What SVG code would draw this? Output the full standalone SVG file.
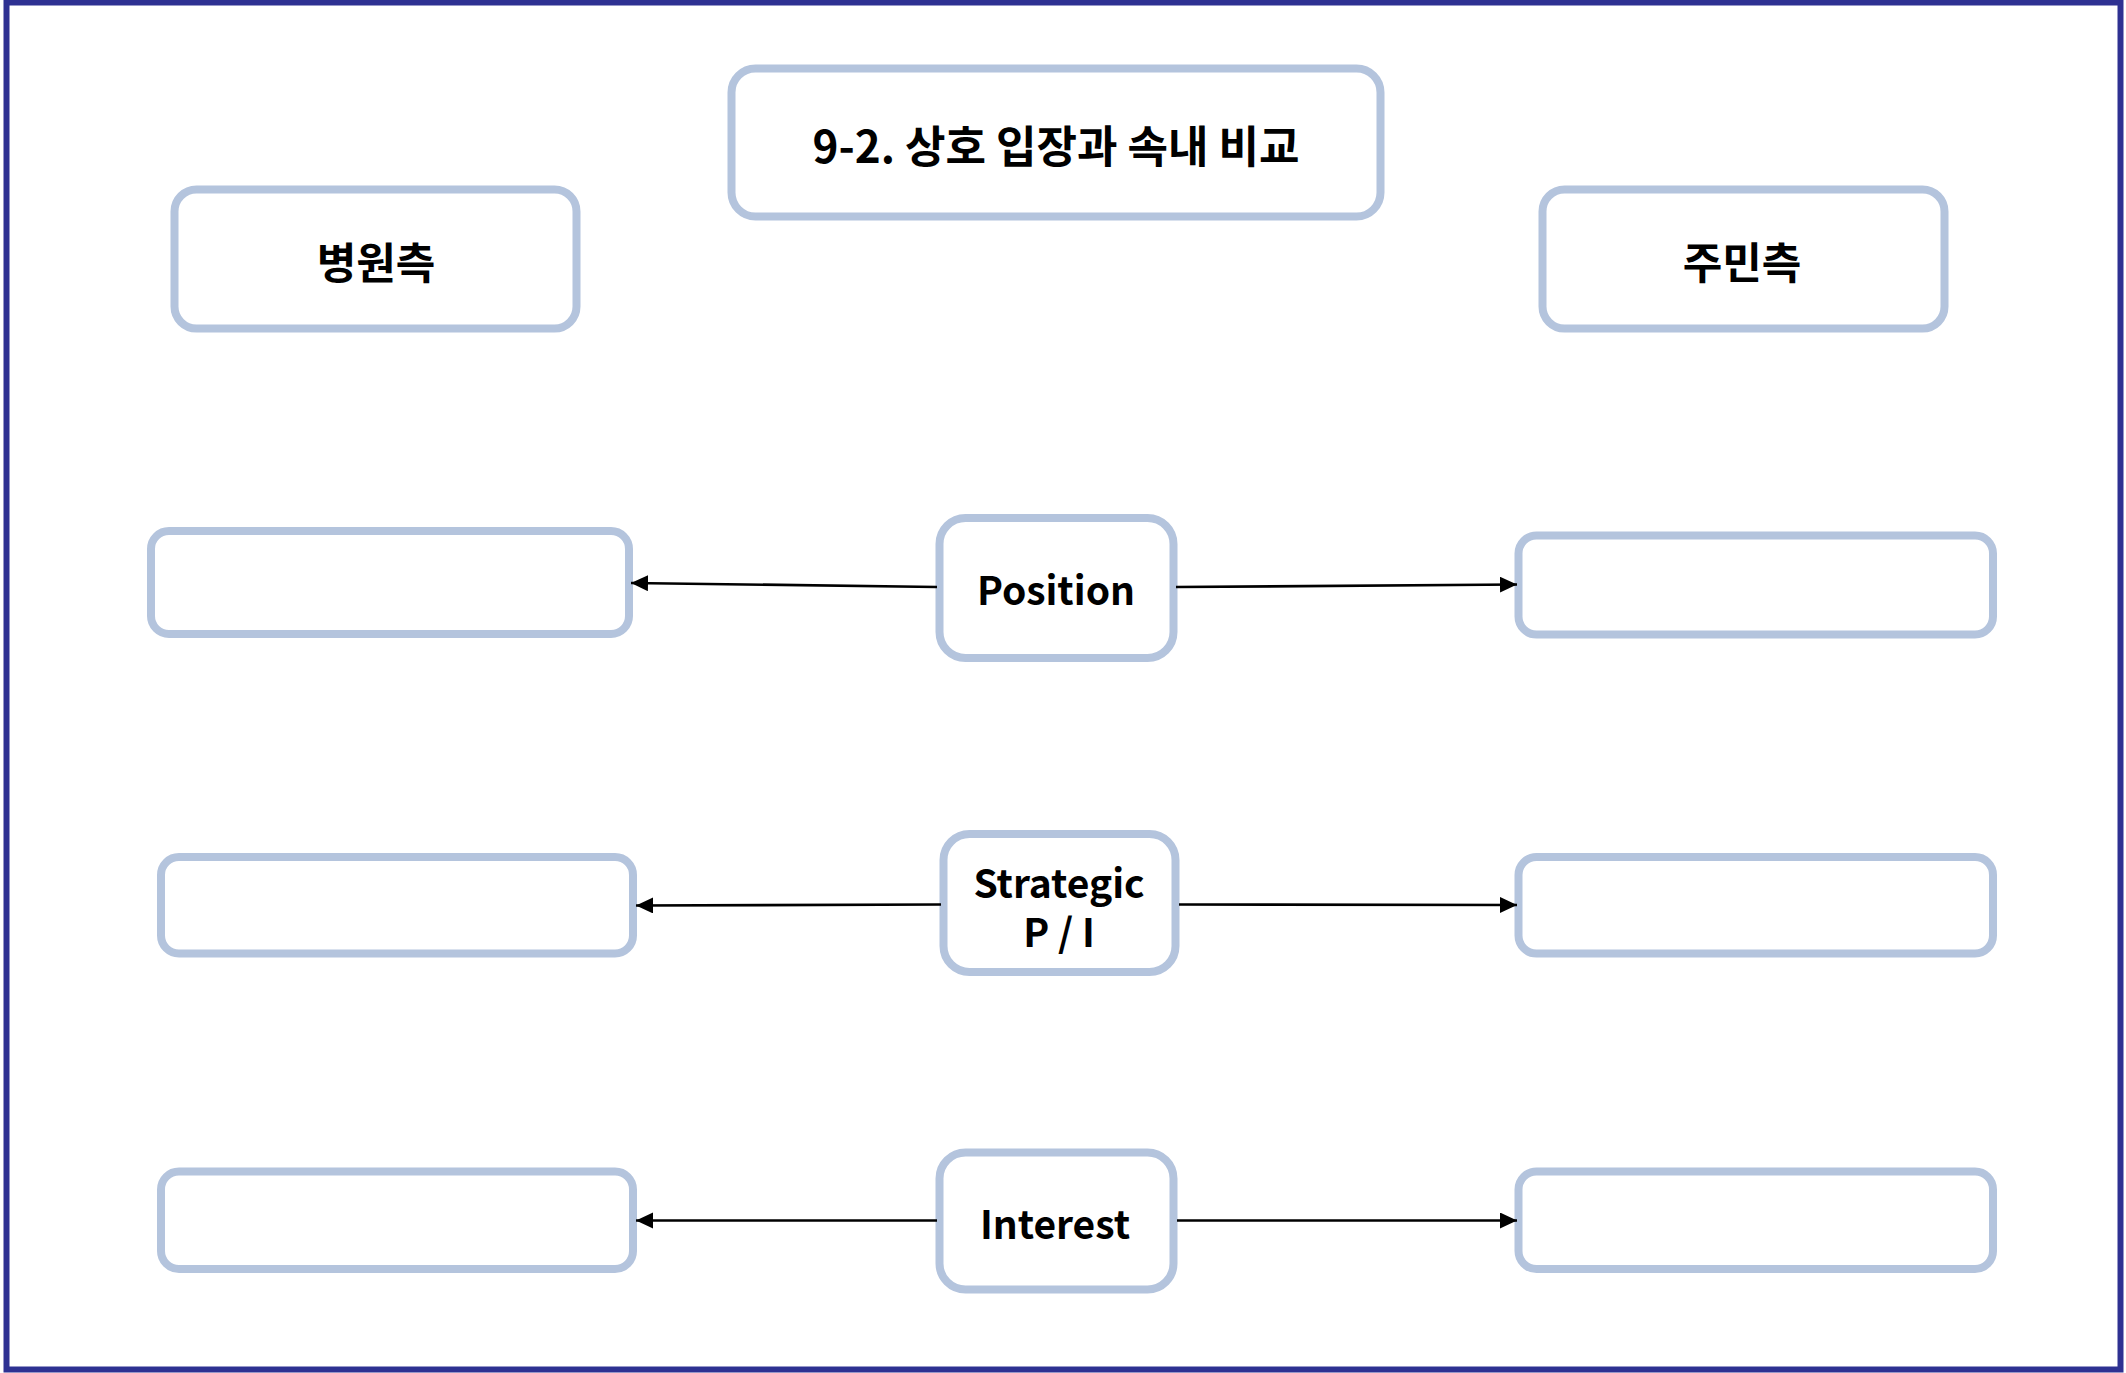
<svg xmlns="http://www.w3.org/2000/svg" width="2126" height="1373" viewBox="0 0 2126 1373">
<defs>
<style>
.box{fill:#ffffff;stroke:#b4c4dd;stroke-width:8}
.lbl{font-family:"Noto Sans CJK KR","Liberation Sans",sans-serif;font-weight:bold;fill:#000000;text-anchor:middle;dominant-baseline:central}
.conn{fill:none;stroke:#000000;stroke-width:2.7}
</style>
<marker id="arr" markerUnits="userSpaceOnUse" markerWidth="20" markerHeight="18" refX="17" refY="8" orient="auto">
<path d="M0,0 L17,8 L0,16 z" fill="#000000"/>
</marker>
</defs>
<rect x="0" y="0" width="2126" height="1373" fill="#ffffff"/>
<rect x="6.5" y="2.5" width="2114" height="1367" fill="none" stroke="#2e3192" stroke-width="6"/>

<g id="title">
<rect class="box" x="731.5" y="68.5" width="649" height="148" rx="24"/>
<text class="lbl" x="1056" y="144" font-size="44">9-2. 상호 입장과 속내 비교</text>
</g>
<g id="hospital">
<rect class="box" x="174.5" y="189.5" width="402" height="139" rx="22"/>
<text class="lbl" x="376" y="260" font-size="43">병원측</text>
</g>
<g id="residents">
<rect class="box" x="1542.5" y="189.5" width="402" height="139" rx="22"/>
<text class="lbl" x="1742" y="260" font-size="43">주민측</text>
</g>

<g id="position">
<rect class="box" x="939.5" y="518" width="234" height="140" rx="26"/>
<text class="lbl" x="1056" y="588" font-size="39">Position</text>
</g>
<g id="strategic">
<rect class="box" x="943.5" y="834" width="232" height="138" rx="26"/>
<text class="lbl" font-size="39"><tspan x="1059" y="881">Strategic</tspan><tspan x="1059" y="930">P / I</tspan></text>
</g>
<g id="interest">
<rect class="box" x="939.5" y="1152.5" width="234" height="137" rx="26"/>
<text class="lbl" x="1055" y="1222" font-size="39">Interest</text>
</g>

<g id="pos-left"><rect class="box" x="151" y="531" width="478" height="103" rx="18"/></g>
<g id="pos-right"><rect class="box" x="1518.5" y="535.5" width="474.5" height="99" rx="18"/></g>
<g id="str-left"><rect class="box" x="161" y="857" width="472" height="96.5" rx="18"/></g>
<g id="str-right"><rect class="box" x="1518.5" y="857" width="474.5" height="96.5" rx="18"/></g>
<g id="int-left"><rect class="box" x="161" y="1171.5" width="472" height="97.5" rx="18"/></g>
<g id="int-right"><rect class="box" x="1518.5" y="1171.5" width="474.5" height="97.5" rx="18"/></g>

<g id="connectors">
<line class="conn" x1="937" y1="587" x2="631" y2="583" marker-end="url(#arr)"/>
<line class="conn" x1="1176" y1="587" x2="1517" y2="584.5" marker-end="url(#arr)"/>
<line class="conn" x1="941" y1="904.5" x2="636" y2="905.5" marker-end="url(#arr)"/>
<line class="conn" x1="1179" y1="904.5" x2="1517" y2="905" marker-end="url(#arr)"/>
<line class="conn" x1="937" y1="1220.5" x2="636" y2="1220.5" marker-end="url(#arr)"/>
<line class="conn" x1="1177" y1="1220.5" x2="1517" y2="1220.5" marker-end="url(#arr)"/>
</g>
</svg>
